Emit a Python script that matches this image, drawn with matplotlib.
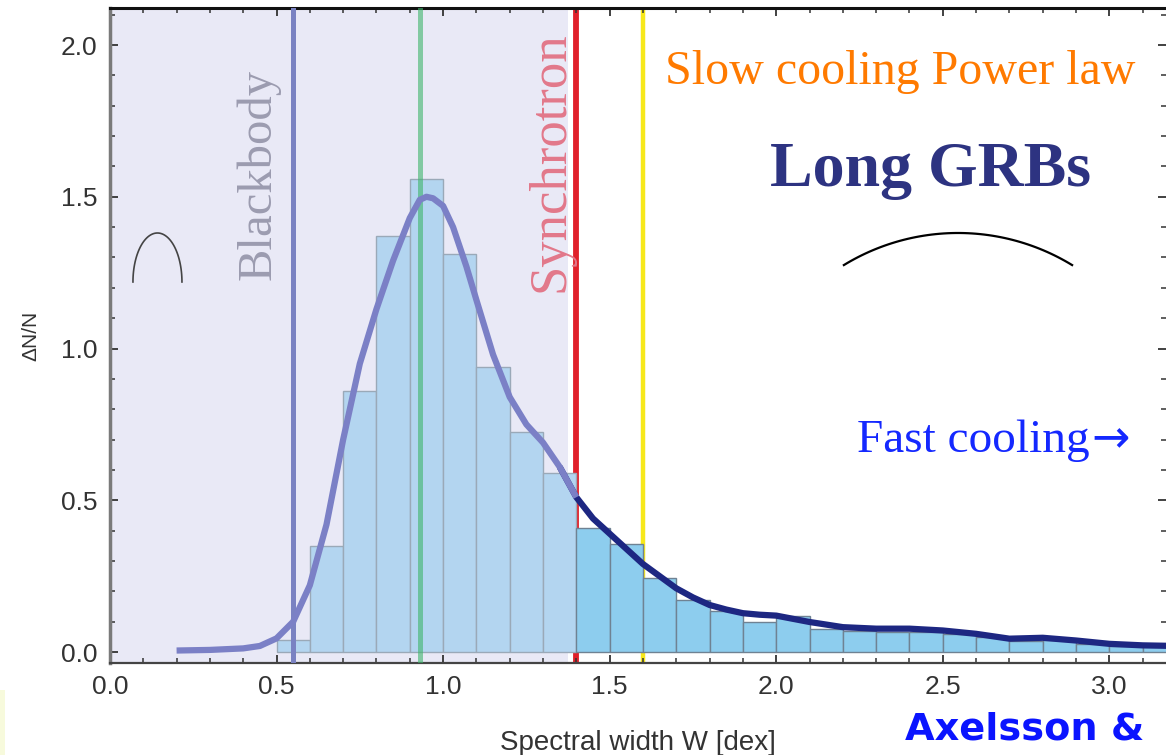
import numpy as np
import matplotlib
matplotlib.use("Agg")
import matplotlib.pyplot as plt
from matplotlib.patches import Rectangle
from matplotlib.ticker import MultipleLocator, FormatStrFormatter

# histogram of spectral widths (bin left edges, width 0.1)
bin_left = [0.5, 0.6, 0.7, 0.8, 0.9, 1.0, 1.1, 1.2, 1.3, 1.4, 1.5, 1.6, 1.7, 1.8,
            1.9, 2.0, 2.1, 2.2, 2.3, 2.4, 2.5, 2.6, 2.7, 2.8, 2.9, 3.0, 3.1]
bin_height = [0.04, 0.35, 0.86, 1.37, 1.56, 1.31, 0.94, 0.725, 0.59, 0.41, 0.355, 0.245, 0.17, 0.135,
              0.10, 0.12, 0.075, 0.07, 0.065, 0.065, 0.06, 0.05, 0.035, 0.04, 0.025, 0.02, 0.02]

# smoothed distribution
curve_x = [0.2, 0.3, 0.4, 0.45, 0.5, 0.55, 0.6, 0.65, 0.7, 0.75, 0.8, 0.85, 0.9, 0.93,
           0.95, 0.97, 1.0, 1.03, 1.07, 1.1, 1.15, 1.2, 1.25, 1.3, 1.35, 1.4, 1.45, 1.5,
           1.55, 1.6, 1.65, 1.7, 1.75, 1.8, 1.85, 1.9, 1.95, 2.0, 2.1, 2.2, 2.3, 2.4,
           2.5, 2.6, 2.7, 2.8, 2.9, 3.0, 3.1, 3.2]
curve_y = [0.005, 0.007, 0.012, 0.02, 0.045, 0.10, 0.22, 0.42, 0.70, 0.95, 1.13, 1.29, 1.43, 1.49,
           1.50, 1.495, 1.47, 1.40, 1.27, 1.16, 0.98, 0.84, 0.75, 0.69, 0.61, 0.51, 0.44, 0.39,
           0.34, 0.29, 0.25, 0.21, 0.18, 0.155, 0.14, 0.128, 0.123, 0.12, 0.099, 0.082, 0.077, 0.077,
           0.071, 0.06, 0.044, 0.047, 0.038, 0.027, 0.022, 0.02]

# reference widths
w_blackbody = 0.55
w_peak = 0.93
w_synchrotron = 1.40
w_slow_pl = 1.60

fig = plt.figure(figsize=(11.66, 7.55), dpi=100)
ax = fig.add_axes([0.0943, 0.1219, 0.9057, 0.8675])

ax.axvspan(0, 1.375, color="#e9e9f6", zorder=0, lw=0)

ax.axvline(w_synchrotron, color="#e0202a", lw=4.2, zorder=1)
ax.axvline(w_slow_pl, color="#f7e81a", lw=3.2, zorder=1)

colors = ["#b3d5f0" if x < 1.39 else "#8dcdee" for x in bin_left]
edges = ["#9aa9b8" if x < 1.39 else "#6f8293" for x in bin_left]
ax.bar(bin_left, bin_height, width=0.1, align="edge", color=colors,
       edgecolor=edges, linewidth=1.0, zorder=2)

ax.axvline(w_blackbody, color="#7a82c2", lw=3.6, zorder=3)
ax.axvline(w_peak, color="#3db56a", lw=3.6, alpha=0.6, zorder=3)

cx = np.array(curve_x)
cy = np.array(curve_y)
ax.plot(cx[cx <= 1.4], cy[cx <= 1.4], color="#7b80c6", lw=4.5,
        solid_capstyle="butt", solid_joinstyle="round", zorder=5)
ax.plot(cx[cx >= 1.35], cy[cx >= 1.35], color="#1d2782", lw=4.5,
        solid_capstyle="butt", solid_joinstyle="round", zorder=4)

ax.set_xlim(0, 3.17)
ax.set_ylim(-0.036, 2.122)
ax.xaxis.set_major_locator(MultipleLocator(0.5))
ax.xaxis.set_minor_locator(MultipleLocator(0.1))
ax.yaxis.set_major_locator(MultipleLocator(0.5))
ax.yaxis.set_minor_locator(MultipleLocator(0.1))
ax.xaxis.set_major_formatter(FormatStrFormatter("%.1f"))
ax.yaxis.set_major_formatter(FormatStrFormatter("%.1f"))
ax.tick_params(which="both", direction="in", top=True, right=True, color="#333333")
ax.tick_params(which="major", length=6, width=1.3, labelsize=19, labelcolor="#333333", pad=9)
ax.tick_params(which="minor", length=3.5, width=1.1)
for lab in ax.get_xticklabels() + ax.get_yticklabels():
    lab.set_family("Liberation Sans")

ax.spines["left"].set_color("#7a7a7a")
ax.spines["left"].set_linewidth(2.5)
ax.spines["bottom"].set_color("#444444")
ax.spines["bottom"].set_linewidth(1.6)
ax.spines["top"].set_color("#111111")
ax.spines["top"].set_linewidth(2.2)
ax.spines["right"].set_visible(False)

ax.set_xlabel("Spectral width W [dex]", fontsize=20, color="#333333",
              family="Liberation Sans", labelpad=22)
ax.set_ylabel("ΔN/N", fontsize=15, color="#333333", family="Liberation Sans", labelpad=15)

serif = ["Liberation Serif", "DejaVu Serif"]
ax.text(0.444, 1.572, "Blackbody", rotation=90, ha="center", va="center",
        fontsize=35, color="#9c9cb0", family=serif, zorder=6)
ax.text(1.321, 1.615, "Synchrotron", rotation=90, ha="center", va="center",
        fontsize=38, color="#e2788a", family=serif, zorder=6)
ax.text(1.665, 1.91, "Slow cooling Power law", ha="left", va="center",
        fontsize=34.5, color="#ff7a00", family=serif, zorder=6)
ax.text(2.462, 1.585, "Long GRBs", ha="center", va="center",
        fontsize=46, color="#2d3381", family=serif, weight="bold", zorder=6)
fast = ax.text(2.243, 0.695, "Fast cooling", ha="left", va="center",
               fontsize=34, color="#1428ff", family=serif, zorder=6)
ax.annotate("→", xy=(1.0, 0.5), xycoords=fast, xytext=(1, 1), textcoords="offset points",
            ha="left", va="center", fontsize=33, color="#1428ff",
            family="DejaVu Sans", zorder=6)

# hand drawn arcs (pixel geometry of the sketch converted to axes fraction)
ax_w, ax_h = 1056.0, 655.0
t = np.linspace(0, np.pi, 60)
ax.plot((157.5 - 110 + 24.5 * np.cos(t)) / ax_w, (663 - 282 + 49 * np.sin(t)) / ax_h,
        transform=ax.transAxes, color="#444444", lw=1.2, zorder=6)
t = np.linspace(np.deg2rad(58.6), np.deg2rad(121.4), 60)
ax.plot((958 - 110 + 219 * np.cos(t)) / ax_w, (663 - 452 + 219 * np.sin(t)) / ax_h,
        transform=ax.transAxes, color="black", lw=1.6, zorder=6)

fig.add_artist(Rectangle((0, 0), 5 / 1166, 65 / 755, transform=fig.transFigure,
                         color="#f7fadc", lw=0))
fig.text(905 / 1166, 1 - 712 / 755, "Axelsson &", ha="left", va="top",
         fontsize=27.5, color="#0a14ff", weight="bold", family="DejaVu Sans")

fig.savefig("out.png", dpi=100)
